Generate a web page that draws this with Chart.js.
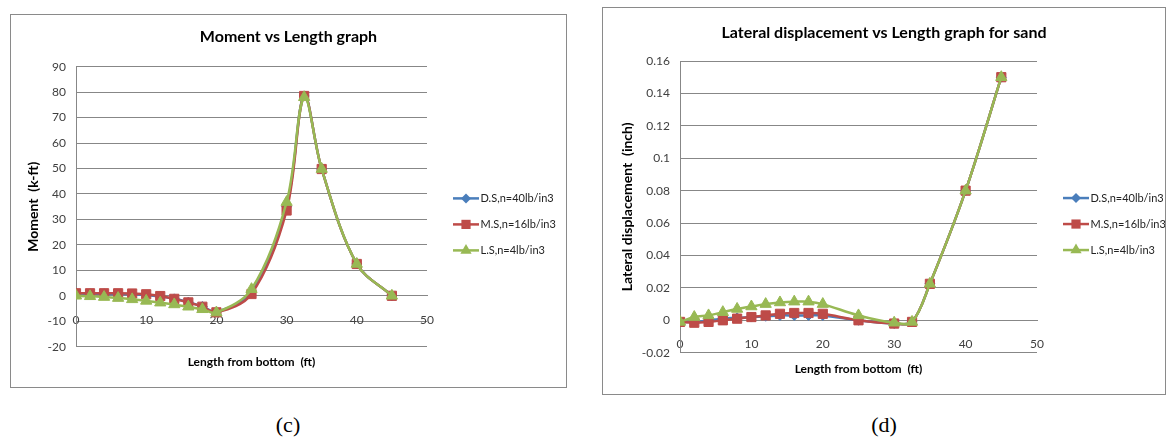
<!DOCTYPE html>
<html>
<head>
<meta charset="utf-8">
<script src="https://cdn.jsdelivr.net/npm/chart.js@4/dist/chart.umd.min.js"></script>
<style>
  body { margin: 0; background: #fff; width: 1174px; height: 438px; position: relative; overflow: hidden; }
  .box { position: absolute; border: 1px solid #8a8a8a; box-sizing: border-box; background: #fff; }
  .box canvas { display: block; }
  .cap { position: absolute; font-family: 'Liberation Serif', 'Times New Roman', serif; font-size: 22px; color: #000; transform: translateX(-50%); }
</style>
</head>
<body>
<div class="box" style="left:10px;top:14px;width:557px;height:374px"><canvas id="chartC" width="555" height="372"></canvas></div>
<div class="box" style="left:602px;top:7px;width:564px;height:388px"><canvas id="chartD" width="562" height="386"></canvas></div>
<div class="cap" style="left:288px;top:412px">(c)</div>
<div class="cap" style="left:884px;top:412px">(d)</div>
<script>
// series names (legend)
var seriesNames = ['D.S,n=40lb/in3', 'M.S,n=16lb/in3', 'L.S,n=4lb/in3'];

// (c) moment vs length
var lengthC = [0, 2, 4, 6, 8, 10, 12, 14, 16, 18, 20, 25, 30, 32.5, 35, 40, 45];
var momentDS = [0.8, 0.8, 0.8, 0.7, 0.6, 0.3, -0.3, -1.2, -2.5, -4.2, -6.3, 1.5, 35, 78.5, 49.8, 12.5, 0];
var momentMS = [1, 1, 1, 1, 0.9, 0.6, -0.1, -1.2, -2.6, -4.3, -6.5, 0.7, 33.5, 78.5, 49.8, 12.5, 0];
var momentLS = [0, -0.2, -0.5, -0.9, -1.4, -2, -2.7, -3.4, -4.3, -5.3, -6.6, 2.6, 36.8, 78, 49.8, 12.5, 0];
var yTicksC = [-20, -10, 0, 10, 20, 30, 40, 50, 60, 70, 80, 90];

// (d) lateral displacement vs length
var lengthD = [0, 2, 4, 6, 8, 10, 12, 14, 16, 18, 20, 25, 30, 32.5, 35, 40, 45];
var dispDS = [-0.001, -0.001, 0, 0.001, 0.0015, 0.002, 0.0025, 0.003, 0.003, 0.003, 0.003, 0, -0.002, -0.001, 0.0225, 0.08, 0.15];
var dispMS = [-0.001, -0.0015, -0.001, 0, 0.001, 0.002, 0.003, 0.004, 0.0045, 0.0045, 0.004, 0, -0.002, -0.001, 0.0225, 0.08, 0.15];
var dispLS = [-0.001, 0.002, 0.003, 0.005, 0.007, 0.0085, 0.01, 0.011, 0.0115, 0.0115, 0.01, 0.003, -0.0015, -0.001, 0.0225, 0.08, 0.15];
var yTicksD = [-0.02, 0, 0.02, 0.04, 0.06, 0.08, 0.1, 0.12, 0.14, 0.16];

var xTicks = [0, 10, 20, 30, 40, 50];

var colors = ['#4a7ebb', '#be4b48', '#98b954'];
var styles = ['rectRot', 'rect', 'triangle'];
var radii = [5, 6.5, 6.5];
var gridColor = '#878787';
var FONT = 'Lato';

function drawMarker(ctx, style, r, x, y, color) {
  ctx.fillStyle = color;
  ctx.beginPath();
  if (style === 'rect') {
    var s = r * Math.SQRT1_2;
    ctx.rect(x - s, y - s, 2 * s, 2 * s);
  } else if (style === 'rectRot') {
    ctx.moveTo(x - r, y); ctx.lineTo(x, y - r); ctx.lineTo(x + r, y); ctx.lineTo(x, y + r);
    ctx.closePath();
  } else {
    var a = 0;
    ctx.moveTo(x + Math.sin(a) * r, y - Math.cos(a) * r);
    a += Math.PI * 2 / 3;
    ctx.lineTo(x + Math.sin(a) * r, y - Math.cos(a) * r);
    a += Math.PI * 2 / 3;
    ctx.lineTo(x + Math.sin(a) * r, y - Math.cos(a) * r);
    ctx.closePath();
  }
  ctx.fill();
}

// legend like excel: fixed width, line with marker
function legendPlugin(legendW) {
  return {
    id: 'excelLegend',
    beforeLayout: function(chart) {
      var lg = chart.legend;
      if (lg && !lg._fixed) {
        var fit = lg.fit;
        lg.fit = function() { fit.call(this); this.width = legendW; };
        lg._fixed = true;
      }
    },
    afterDraw: function(chart) {
      var lg = chart.legend, ctx = chart.ctx;
      lg.legendItems.forEach(function(item, i) {
        var hb = lg.legendHitBoxes[i];
        var ds = chart.data.datasets[item.datasetIndex];
        var y = hb.top + hb.height / 2;
        var x0 = hb.left + 11, x1 = hb.left + 37;
        ctx.save();
        ctx.strokeStyle = ds.borderColor;
        ctx.lineWidth = ds.borderWidth;
        ctx.beginPath(); ctx.moveTo(x0, y); ctx.lineTo(x1, y); ctx.stroke();
        drawMarker(ctx, ds.pointStyle, ds.pointRadius, (x0 + x1) / 2, y, ds.borderColor);
        ctx.restore();
      });
    }
  };
}

function makeChart(id, o) {
  var datasets = o.series.map(function(vals, k) {
    return {
      label: seriesNames[k],
      data: o.xs.map(function(x, i) { return {x: x, y: vals[i]}; }),
      borderColor: colors[k],
      backgroundColor: colors[k],
      borderWidth: 2.5,
      pointStyle: styles[k],
      pointRadius: radii[k],
      pointBorderWidth: 1,
      pointBorderColor: colors[k],
      pointBackgroundColor: colors[k],
      tension: 0.35,
      order: 2 - k,
      xAxisID: 'x',
      yAxisID: 'y'
    };
  });

  return new Chart(document.getElementById(id), {
    type: 'line',
    data: {datasets: datasets},
    plugins: [legendPlugin(o.legendW)],
    options: {
      responsive: false,
      animation: false,
      layout: {padding: {left: 0, right: 0, top: 0, bottom: o.padBottom}},
      plugins: {
        title: {
          display: true, text: o.title, color: '#000',
          font: {family: FONT, size: 16, weight: 'bold'},
          padding: {top: o.titleTop, bottom: o.titleBottom}
        },
        legend: {
          position: 'right', align: 'center', fullSize: false,
          title: {display: true, text: '', font: {size: 12}, padding: o.legendShift},
          labels: {
            color: '#222', font: {family: FONT, size: 11},
            boxWidth: 33, boxHeight: 11, padding: 15,
            sort: function(a, b) { return a.datasetIndex - b.datasetIndex; },
            generateLabels: function(chart) {
              var items = Chart.defaults.plugins.legend.labels.generateLabels(chart);
              items.forEach(function(it) {
                it.fillStyle = 'rgba(0,0,0,0)';
                it.strokeStyle = 'rgba(0,0,0,0)';
                it.lineWidth = 0;
              });
              return items;
            }
          }
        },
        tooltip: {enabled: false}
      },
      scales: {
        x: {
          type: 'linear', position: {y: 0}, min: 0, max: 50,
          afterBuildTicks: function(s) { s.ticks = xTicks.map(function(v) { return {value: v}; }); },
          grid: {display: false, drawTicks: false},
          border: {display: true, color: gridColor, width: 1},
          ticks: {color: '#404040', font: {family: FONT, size: 12}, padding: 17, maxRotation: 0,
            callback: function(v) { return String(v); }}
        },
        xt: {
          type: 'linear', axis: 'x', position: 'bottom', min: 0, max: 50,
          ticks: {display: false}, grid: {display: false, drawTicks: false}, border: {display: false},
          title: {display: true, text: 'Length from bottom  (ft)', color: '#000',
            font: {family: FONT, size: 12, weight: 'bold'}, padding: {top: o.xTitleTop, bottom: 4}}
        },
        y: {
          type: 'linear', position: 'left', min: o.yTicks[0], max: o.yTicks[o.yTicks.length - 1],
          afterBuildTicks: function(s) { s.ticks = o.yTicks.map(function(v) { return {value: v}; }); },
          afterFit: function(s) { s.width = o.leftW; },
          grid: {color: gridColor, lineWidth: 1, drawTicks: false},
          border: {display: true, color: gridColor, width: 1},
          ticks: {color: '#404040', font: {family: FONT, size: 12}, padding: 10,
            callback: function(v) { return String(v); }},
          title: {display: true, text: o.yTitle, color: '#000',
            font: {family: FONT, size: 14, weight: 'bold'}, padding: {top: o.yTitlePad, bottom: 0}}
        }
      }
    }
  });
}

makeChart('chartC', {
  title: 'Moment vs Length graph',
  yTitle: 'Moment  (k-ft)',
  xs: lengthC,
  series: [momentDS, momentMS, momentLS],
  yTicks: yTicksC,
  leftW: 65, legendW: 139,
  titleTop: 12.4, titleBottom: 20.1,
  padBottom: 13.8, xTitleTop: 8.1,
  yTitlePad: 13.6, legendShift: 10.5
});

makeChart('chartD', {
  title: 'Lateral displacement vs Length graph for sand',
  yTitle: 'Lateral displacement  (inch)',
  xs: lengthD,
  series: [dispDS, dispMS, dispLS],
  yTicks: yTicksD,
  leftW: 77, legendW: 128,
  titleTop: 15.4, titleBottom: 18.4,
  padBottom: 13.8, xTitleTop: 9.1,
  yTitlePad: 15.6, legendShift: 10
});
</script>
</body>
</html>
